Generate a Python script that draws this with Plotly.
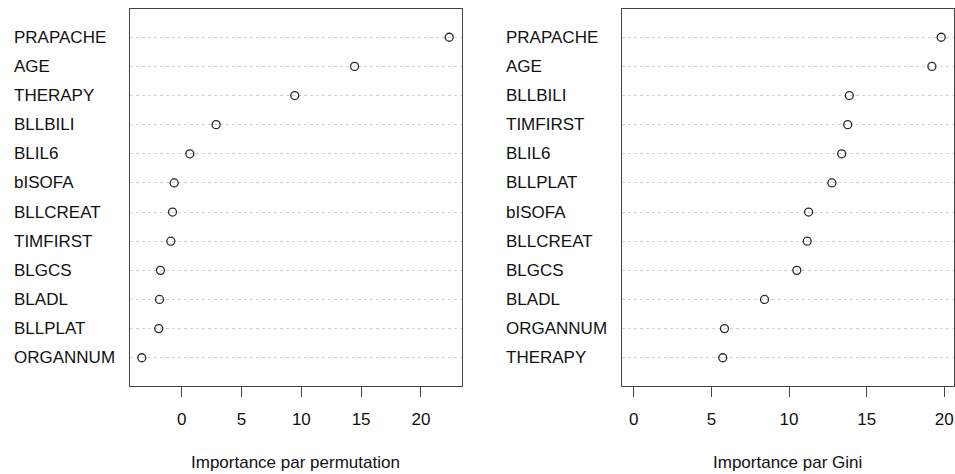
import plotly.graph_objects as go

# Variable importance from a random forest, two measures
perm_vars = ["ORGANNUM", "BLLPLAT", "BLADL", "BLGCS", "TIMFIRST", "BLLCREAT",
             "bISOFA", "BLIL6", "BLLBILI", "THERAPY", "AGE", "PRAPACHE"]
perm_vals = [-3.35, -1.93, -1.87, -1.79, -0.92, -0.78,
             -0.64, 0.67, 2.87, 9.45, 14.45, 22.37]

gini_vars = ["THERAPY", "ORGANNUM", "BLADL", "BLGCS", "BLLCREAT", "bISOFA",
             "BLLPLAT", "BLIL6", "TIMFIRST", "BLLBILI", "AGE", "PRAPACHE"]
gini_vals = [5.73, 5.84, 8.42, 10.50, 11.17, 11.26,
             12.76, 13.39, 13.78, 13.88, 19.20, 19.80]

tick_vals = [0, 5, 10, 15, 20]
titles = ["Importance par permutation", "Importance par Gini"]

W, H = 955, 474
FONT = "Liberation Sans, Arial, Helvetica, sans-serif"
TXT = "#111111"
BOX = "#444444"

fig = go.Figure()

panels = [
    dict(vars=perm_vars, vals=perm_vals, x0=129.5, x1=461.5, lab_x=12,
         xref="x", yref="y", xa="xaxis", ya="yaxis"),
    dict(vars=gini_vars, vals=gini_vals, x0=621.5, x1=953.5, lab_x=504,
         xref="x2", yref="y2", xa="xaxis2", ya="yaxis2"),
]

y_top, y_bot = 9, 386
annotations = []
layout_axes = {}

for i, p in enumerate(panels):
    pos = list(range(1, len(p["vars"]) + 1))
    fig.add_trace(go.Scatter(
        x=p["vals"], y=pos, mode="markers",
        marker=dict(symbol="circle-open", size=8, color="#2a2a2a",
                    line=dict(width=1.3, color="#2a2a2a")),
        xaxis=p["xref"], yaxis=p["yref"], showlegend=False,
        hovertext=p["vars"], hoverinfo="x+text",
    ))
    # R-style 4% extension of the data range
    lo = min(p["vals"]) if i == 0 else 0.0
    hi = max(p["vals"])
    d = hi - lo
    xr = [lo - 0.04 * d, hi + 0.04 * d]

    layout_axes[p["xa"]] = dict(
        domain=[p["x0"] / W, p["x1"] / W], range=xr, anchor=p["yref"],
        tickmode="array", tickvals=tick_vals, ticktext=[str(t) for t in tick_vals],
        ticks="outside", ticklen=10, tickwidth=1.3, tickcolor=BOX,
        ticklabelstandoff=7,
        showline=True, linecolor=BOX, linewidth=1.3, mirror=True,
        showgrid=False, zeroline=False,
        tickfont=dict(family=FONT, size=17, color=TXT),
    )
    layout_axes[p["ya"]] = dict(
        domain=[1 - y_bot / H, 1 - y_top / H], range=[0.03, len(pos) + 0.97],
        anchor=p["xref"], tickmode="array", tickvals=pos, showticklabels=False,
        showgrid=True, gridcolor="#d2d2d2", griddash="dot", gridwidth=1,
        showline=True, linecolor=BOX, linewidth=1.3, mirror=True,
        zeroline=False, ticks="",
    )
    for name, yv in zip(p["vars"], pos):
        annotations.append(dict(
            x=p["lab_x"] / W, xref="paper", y=yv, yref=p["yref"],
            text=name, showarrow=False, xanchor="left", yanchor="middle",
            font=dict(family=FONT, size=17, color=TXT),
        ))
    annotations.append(dict(
        x=(p["x0"] + p["x1"]) / 2 / W, xref="paper", y=1 - 462 / H, yref="paper",
        text=titles[i], showarrow=False, xanchor="center", yanchor="middle",
        font=dict(family=FONT, size=17, color=TXT),
    ))

fig.update_layout(
    width=W, height=H, margin=dict(l=0, r=0, t=0, b=0),
    paper_bgcolor="white", plot_bgcolor="white",
    annotations=annotations, **layout_axes,
)

fig.write_html("out.html")
